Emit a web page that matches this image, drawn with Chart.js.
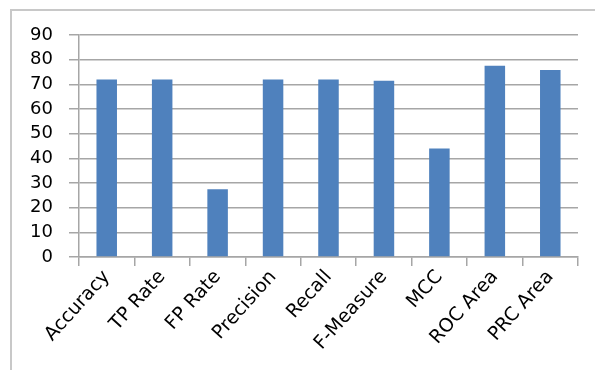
<!DOCTYPE html>
<html>
<head>
<meta charset="utf-8">
<script src="https://cdn.jsdelivr.net/npm/chart.js@4"></script>
<style>
  html, body { margin: 0; padding: 0; background: #fff; }
  #wrap { position: relative; width: 595px; height: 370px; overflow: hidden; }
  #frame { position: absolute; left: 10px; top: 9px; width: 700px; height: 500px; border: 2px solid #c8c8c8; box-sizing: border-box; }
  #wrap canvas { position: absolute; left: 0; top: 0; }
</style>
</head>
<body>
<div id="wrap">
  <div id="frame"></div>
  <canvas id="chart" width="595" height="370"></canvas>
</div>
<script>
const categorias = ['Accuracy', 'TP Rate', 'FP Rate', 'Precision', 'Recall', 'F-Measure', 'MCC', 'ROC Area', 'PRC Area'];
const valores = [72, 72, 27.5, 72, 72, 71.5, 44, 77.5, 75.8];
const ticksY = [0, 10, 20, 30, 40, 50, 60, 70, 80, 90];

const cinza = '#a6a6a6';

const ctx = document.getElementById('chart').getContext('2d');
new Chart(ctx, {
    type: 'bar',
    data: {
        labels: categorias,
        datasets: [{
            data: valores,
            backgroundColor: '#4f81bd',
            barPercentage: 0.37,
            categoryPercentage: 1
        }]
    },
    options: {
        responsive: false,
        animation: false,
        layout: { padding: { left: 0, top: 35, right: 17, bottom: 0 } },
        plugins: { legend: { display: false }, tooltip: { enabled: false } },
        scales: {
            x: {
                grid: { offset: true, drawOnChartArea: false, tickLength: 9, color: cinza, lineWidth: 1.5 },
                border: { color: cinza, width: 1.5 },
                ticks: { font: { family: 'DejaVu Sans', size: 19 }, color: '#000', minRotation: 48, maxRotation: 48, autoSkip: false, padding: 0 },
                afterFit: s => { s.height = 113; }
            },
            y: {
                min: 0,
                max: 90,
                afterBuildTicks: s => { s.ticks = ticksY.map(v => ({ value: v })); },
                grid: { color: cinza, lineWidth: 1.5, tickLength: 10 },
                border: { color: cinza, width: 1.5 },
                ticks: { font: { family: 'DejaVu Sans', size: 18 }, color: '#000', padding: 16 },
                afterFit: s => { s.width = 79; }
            }
        }
    }
});
</script>
</body>
</html>
